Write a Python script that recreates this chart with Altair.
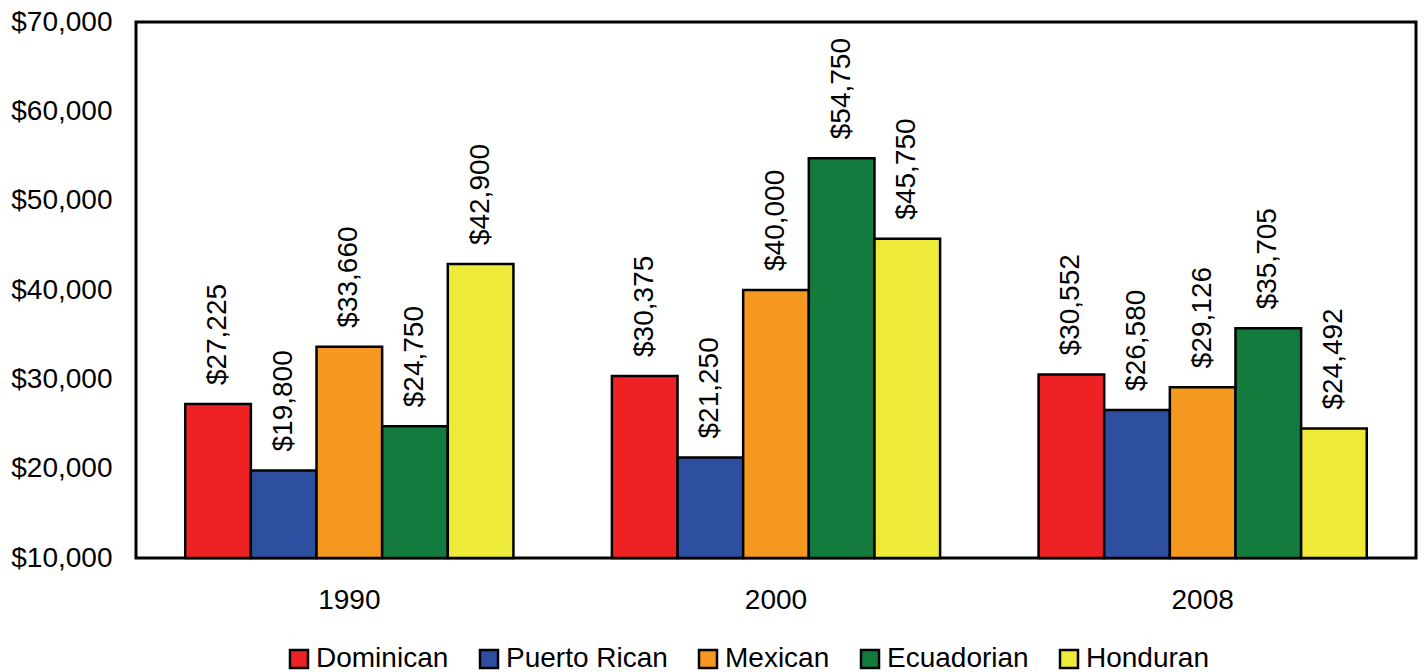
import altair as alt
import pandas as pd

# Median household income by origin group and year
years = ["1990", "2000", "2008"]
groups = ["Dominican", "Puerto Rican", "Mexican", "Ecuadorian", "Honduran"]
income_1990 = [27225, 19800, 33660, 24750, 42900]
income_2000 = [30375, 21250, 40000, 54750, 45750]
income_2008 = [30552, 26580, 29126, 35705, 24492]
colors = ["#EE2224", "#2E4FA0", "#F4981F", "#137B3E", "#EEEA3A"]

FONT = "Liberation Sans"

rows = []
for year, values in zip(years, [income_1990, income_2000, income_2008]):
    for g, v in zip(groups, values):
        rows.append({"year": year, "group": g, "income": v})
df = pd.DataFrame(rows)

x_enc = alt.X("year:N", sort=years, title=None,
              scale=alt.Scale(paddingInner=0, paddingOuter=0),
              axis=alt.Axis(labelAngle=0, ticks=False, domain=False,
                            labelFontSize=28, labelFont=FONT,
                            labelColor="black", labelPadding=28))
xoff_enc = alt.XOffset("group:N", sort=groups,
                       scale=alt.Scale(paddingInner=0, paddingOuter=0.75))
y_scale = alt.Scale(domain=[10000, 70000], nice=False, zero=False)

bars = alt.Chart(df).mark_bar(stroke="black", strokeWidth=2.5).encode(
    x=x_enc,
    xOffset=xoff_enc,
    y=alt.Y("income:Q", scale=y_scale, title=None,
            axis=alt.Axis(values=list(range(10000, 70001, 10000)),
                          format="$,.0f", ticks=False, domain=False,
                          grid=False, labelFontSize=28,
                          labelFont=FONT, labelColor="black",
                          labelPadding=24)),
    y2=alt.Y2(datum=10000),
    color=alt.Color("group:N", sort=groups, title=None,
                    scale=alt.Scale(domain=groups, range=colors),
                    legend=alt.Legend(orient="none", direction="horizontal",
                                      legendX=149, legendY=623, padding=0,
                                      symbolType="square", symbolSize=324,
                                      symbolStrokeColor="black",
                                      symbolStrokeWidth=2.5,
                                      symbolOpacity=1,
                                      labelFont=FONT, labelFontSize=28,
                                      labelColor="black", labelOffset=3,
                                      columnPadding=26, labelLimit=300)),
)

labels = alt.Chart(df).mark_text(
    angle=270, align="left", baseline="middle", dx=19,
    font=FONT, fontSize=28, color="black",
).encode(
    x=alt.X("year:N", sort=years),
    xOffset=alt.XOffset("group:N", sort=groups),
    y=alt.Y("income:Q"),
    text=alt.Text("income:Q", format="$,.0f"),
)

chart = alt.layer(bars, labels).properties(
    width=1280,
    height=536,
    background="white",
    autosize=alt.AutoSizeParams(type="none"),
    padding={"left": 136, "top": 22, "right": 9, "bottom": 114},
).configure_view(
    stroke="black", strokeWidth=3
)

chart.save("out.html", embed_options={"renderer": "svg", "actions": False})
